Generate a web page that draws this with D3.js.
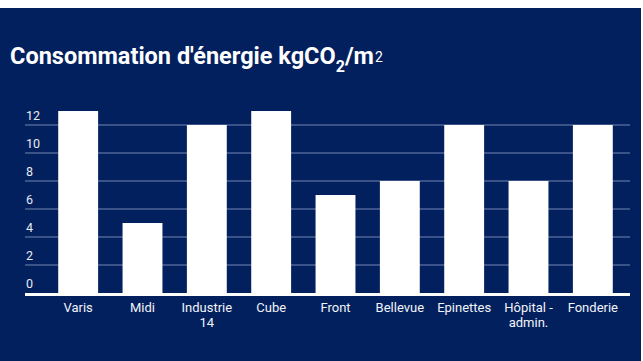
<!DOCTYPE html>
<html>
<head>
<meta charset="utf-8">
<script src="https://cdn.jsdelivr.net/npm/d3@7"></script>
<style>
  body { margin: 0; background: #fff; }
  svg { display: block; font-family: Roboto, "Noto Sans", sans-serif; }
</style>
</head>
<body>
<div id="chart"></div>
<script>
// data
const sites = ["Varis", "Midi", "Industrie 14", "Cube", "Front", "Bellevue", "Epinettes", "Hôpital - admin.", "Fonderie"];
const values = [13, 5, 12, 13, 7, 8, 12, 8, 12];
const yTicks = [0, 2, 4, 6, 8, 10, 12];

const W = 643, H = 361;
const navy = "#02205e";

const svg = d3.select("#chart").append("svg")
    .attr("width", W)
    .attr("height", H);

// background panel
svg.append("rect")
    .attr("x", 0).attr("y", 8)
    .attr("width", 641).attr("height", H - 8)
    .attr("fill", navy);

// title
const title = svg.append("text")
    .attr("x", 10)
    .attr("y", 64)
    .attr("fill", "#fff")
    .style("font-size", "23.5px")
    .style("font-weight", "bold");
title.append("tspan").text("Consommation d'énergie kgCO");
title.append("tspan").attr("dy", 8).style("font-size", "16px").text("2");
title.append("tspan").attr("dy", -8).text("/m");
title.append("tspan").attr("dx", 1).attr("dy", -2)
    .style("font-size", "14px").style("font-weight", "normal").text("2");

// scales
const x = d3.scaleBand()
    .domain(sites)
    .range([41.5, 629.5])
    .paddingInner(0.38)
    .paddingOuter(0.26);

const y = d3.scaleLinear()
    .domain([0, 12])
    .range([293, 125]);

const gridLeft = 25, gridRight = 630;

// gridlines
svg.append("g")
    .selectAll("line")
    .data(yTicks.filter(d => d > 0))
    .join("line")
    .attr("x1", gridLeft)
    .attr("x2", gridRight)
    .attr("y1", d => y(d))
    .attr("y2", d => y(d))
    .attr("stroke", "#3b5289")
    .attr("stroke-width", 2);

// y labels sit above their gridline
svg.append("g")
    .selectAll("text")
    .data(yTicks)
    .join("text")
    .attr("x", 26)
    .attr("y", d => y(d) - 5)
    .attr("fill", "#e8ebf2")
    .style("font-size", "12.5px")
    .text(d => d);

// bars
svg.append("g")
    .selectAll("rect")
    .data(sites)
    .join("rect")
    .attr("x", d => x(d))
    .attr("y", (d, i) => y(values[i]))
    .attr("width", x.bandwidth())
    .attr("height", (d, i) => y(0) - y(values[i]))
    .attr("fill", "#fff");

// baseline
svg.append("line")
    .attr("x1", gridLeft)
    .attr("x2", gridRight)
    .attr("y1", y(0) + 1.5)
    .attr("y2", y(0) + 1.5)
    .attr("stroke", "#fff")
    .attr("stroke-width", 3);

// x labels, wrapped to the band step
const xAxis = svg.append("g")
    .attr("transform", `translate(0, ${y(0)})`)
    .call(d3.axisBottom(x).tickSize(0).tickPadding(0));
xAxis.select(".domain").remove();
xAxis.selectAll("text")
    .attr("fill", "#f2f4f8")
    .style("font-size", "13px")
    .style("font-family", "Roboto, sans-serif")
    .attr("dy", null)
    .attr("y", 19)
    .call(wrap, x.step());

function wrap(texts, width) {
    texts.each(function() {
        const text = d3.select(this);
        const words = text.text().split(/\s+/);
        text.text(null);
        let line = [];
        let tspan = text.append("tspan").attr("x", 0).attr("dy", 0);
        words.forEach(w => {
            line.push(w);
            tspan.text(line.join(" "));
            if (tspan.node().getComputedTextLength() > width - 4 && line.length > 1) {
                line.pop();
                tspan.text(line.join(" "));
                line = [w];
                tspan = text.append("tspan").attr("x", 0).attr("dy", "15px").text(w);
            }
        });
    });
}
</script>
</body>
</html>
